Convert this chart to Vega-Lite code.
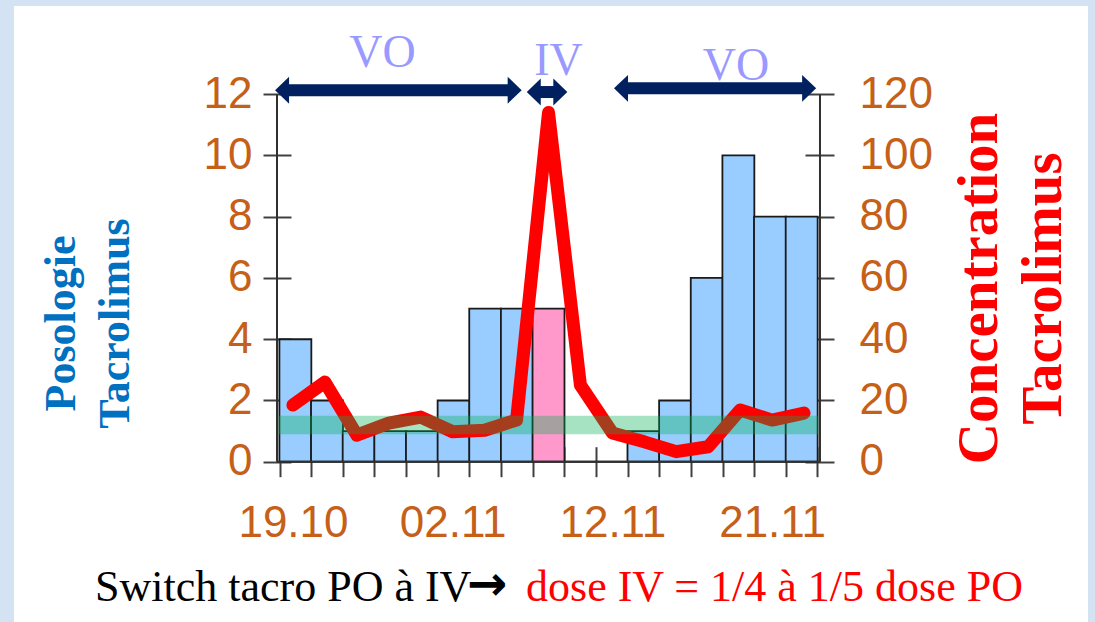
{
  "$schema": "https://vega.github.io/schema/vega-lite/v6.json",
  "autosize": "none",
  "width": 1074,
  "height": 616,
  "padding": {"left": 14, "right": 7, "top": 6, "bottom": 0},
  "background": "#D3E3F3",
  "config": {
    "view": {"fill": "#FFFFFF", "stroke": null},
    "axis": {"grid": false, "domain": false}
  },
  "datasets": {
    "days": [
      {"day": 1, "dose": 4, "route": "VO", "conc": 18.5},
      {"day": 2, "dose": 2, "route": "VO", "conc": 26},
      {"day": 3, "dose": 1, "route": "VO", "conc": 8.7},
      {"day": 4, "dose": 1, "route": "VO", "conc": 12.6},
      {"day": 5, "dose": 1, "route": "VO", "conc": 14.6},
      {"day": 6, "dose": 2, "route": "VO", "conc": 9.8},
      {"day": 7, "dose": 5, "route": "VO", "conc": 10.3},
      {"day": 8, "dose": 5, "route": "VO", "conc": 13.6},
      {"day": 9, "dose": 5, "route": "IV", "conc": 114},
      {"day": 10, "dose": 0, "route": "-", "conc": 25},
      {"day": 11, "dose": 0, "route": "-", "conc": 9.4},
      {"day": 12, "dose": 1, "route": "VO", "conc": 6.5},
      {"day": 13, "dose": 2, "route": "VO", "conc": 3.3},
      {"day": 14, "dose": 6, "route": "VO", "conc": 4.9},
      {"day": 15, "dose": 10, "route": "VO", "conc": 16.9},
      {"day": 16, "dose": 8, "route": "VO", "conc": 13.6},
      {"day": 17, "dose": 8, "route": "VO", "conc": 15.9}
    ],
    "periods": [
      {"route": "VO", "from": 0.44, "to": 8.16, "level": 12.13, "labelAt": 3.8, "labelLevel": 12.88},
      {"route": "IV", "from": 8.32, "to": 9.59, "level": 12.07, "labelAt": 9.31, "labelLevel": 12.62},
      {"route": "VO", "from": 11.05, "to": 17.38, "level": 12.19, "labelAt": 14.87, "labelLevel": 12.46}
    ]
  },
  "resolve": {
    "scale": {"x": "independent", "y": "independent"},
    "axis": {"x": "independent", "y": "independent"}
  },
  "layer": [
    {
      "data": {"name": "days"},
      "mark": {"type": "bar", "width": 31.94, "stroke": "#1A1A1A", "strokeWidth": 1.8},
      "encoding": {
        "x": {
          "field": "day", "type": "quantitative",
          "scale": {"domain": [-7.734, 25.891], "nice": false, "zero": false},
          "axis": {
            "orient": "bottom", "offset": -175.3,
            "values": [0.5, 1.5, 2.5, 3.5, 4.5, 5.5, 6.5, 7.5, 8.5, 9.5, 10.5, 11.5, 12.5, 13.5, 14.5, 15.5, 16.5, 17.5],
            "labels": false, "ticks": true, "tickSize": 30, "tickColor": "#404040", "tickWidth": 2,
            "title": null, "domain": false, "grid": false
          }
        },
        "y": {
          "field": "dose", "type": "quantitative", "stack": null,
          "scale": {"domain": [-5.2316, 14.8788], "nice": false, "zero": false},
          "axis": {
            "orient": "left", "offset": -277,
            "values": [0, 2, 4, 6, 8, 10, 12],
            "tickSize": 28, "tickColor": "#404040", "tickWidth": 2,
            "labelPadding": 11, "labelFontSize": 44, "labelFont": "Liberation Sans", "labelColor": "#C65F17",
            "title": ["Posologie", "Tacrolimus"],
            "titleFont": "Liberation Serif", "titleFontSize": 44, "titleFontWeight": "bold", "titleColor": "#0070C0",
            "titleAngle": -90, "titleX": -230, "titleY": 317, "titleAlign": "center", "titleBaseline": "middle",
            "titleLineHeight": 54, "domain": false, "grid": false
          }
        },
        "color": {
          "field": "route", "type": "nominal",
          "scale": {"domain": ["VO", "IV", "-"], "range": ["#99CCFF", "#FF99CC", "#FFFFFF"]},
          "legend": null
        }
      }
    },
    {
      "data": {"name": "days"},
      "mark": {"type": "line", "color": "#FF0000", "strokeWidth": 13, "strokeJoin": "round", "strokeCap": "round"},
      "encoding": {
        "x": {
          "field": "day", "type": "quantitative",
          "scale": {"domain": [-7.734, 25.891], "nice": false, "zero": false},
          "axis": null
        },
        "y": {
          "field": "conc", "type": "quantitative",
          "scale": {"domain": [-52.316, 148.788], "nice": false, "zero": false},
          "axis": {
            "orient": "right", "offset": -283,
            "values": [0, 20, 40, 60, 80, 100, 120],
            "tickSize": 29, "tickColor": "#404040", "tickWidth": 2,
            "labelPadding": 25, "labelFontSize": 44, "labelFont": "Liberation Sans", "labelColor": "#C65F17",
            "title": ["Concentration", "Tacrolimus"],
            "titleFont": "Liberation Serif", "titleFontSize": 57, "titleFontWeight": "bold", "titleColor": "#FF0000",
            "titleAngle": -90, "titleX": 174, "titleY": 282, "titleAlign": "center", "titleBaseline": "middle",
            "titleLineHeight": 64, "domain": false, "grid": false
          }
        }
      }
    },
    {
      "data": {"values": [{}]},
      "mark": {"type": "rect", "color": "#00B050", "opacity": 0.35},
      "encoding": {
        "x": {"datum": 0.55, "type": "quantitative", "scale": {"domain": [-7.734, 25.891], "nice": false, "zero": false}, "axis": null},
        "x2": {"datum": 17.45},
        "y": {"datum": 9, "type": "quantitative", "scale": {"domain": [-52.316, 148.788], "nice": false, "zero": false}, "axis": null},
        "y2": {"datum": 15}
      }
    },
    {
      "data": {"values": [{}]},
      "mark": {"type": "rule", "color": "#303030", "strokeWidth": 2},
      "encoding": {
        "x": {
          "datum": 0.5, "type": "quantitative",
          "scale": {"domain": [-7.734, 25.891], "nice": false, "zero": false},
          "axis": {
            "orient": "bottom", "offset": -160.3,
            "values": [1, 6, 11, 16],
            "labelExpr": "datum.value == 1 ? '19.10' : datum.value == 6 ? '02.11' : datum.value == 11 ? '12.11' : '21.11'",
            "ticks": false, "labelPadding": 40, "labelBaseline": "top", "labelFlush": false,
            "labelFontSize": 44, "labelFont": "Liberation Sans", "labelColor": "#C65F17",
            "title": null, "domain": false, "grid": false
          }
        },
        "x2": {"datum": 17.5},
        "y": {"datum": 0, "type": "quantitative", "scale": {"domain": [-5.2316, 14.8788], "nice": false, "zero": false}, "axis": null}
      }
    },
    {
      "data": {"values": [{}]},
      "mark": {"type": "rule", "color": "#303030", "strokeWidth": 2},
      "encoding": {
        "x": {"datum": 0.5, "type": "quantitative", "scale": {"domain": [-7.734, 25.891], "nice": false, "zero": false}, "axis": null},
        "y": {"datum": 0, "type": "quantitative", "scale": {"domain": [-5.2316, 14.8788], "nice": false, "zero": false}, "axis": null},
        "y2": {"datum": 12}
      }
    },
    {
      "data": {"values": [{}]},
      "mark": {"type": "rule", "color": "#303030", "strokeWidth": 2},
      "encoding": {
        "x": {"datum": 17.5, "type": "quantitative", "scale": {"domain": [-7.734, 25.891], "nice": false, "zero": false}, "axis": null},
        "y": {"datum": 0, "type": "quantitative", "scale": {"domain": [-5.2316, 14.8788], "nice": false, "zero": false}, "axis": null},
        "y2": {"datum": 12}
      }
    },
    {
      "data": {"name": "periods"},
      "mark": {"type": "rule", "color": "#002060", "strokeWidth": 12, "xOffset": 10, "x2Offset": -10},
      "encoding": {
        "x": {"field": "from", "type": "quantitative", "scale": {"domain": [-7.734, 25.891], "nice": false, "zero": false}, "axis": null},
        "x2": {"field": "to"},
        "y": {"field": "level", "type": "quantitative", "scale": {"domain": [-5.2316, 14.8788], "nice": false, "zero": false}, "axis": null}
      }
    },
    {
      "data": {"name": "periods"},
      "mark": {"type": "point", "shape": "M0,0L1,-0.96L1,0.96Z", "size": 784, "filled": true, "color": "#002060", "opacity": 1, "strokeWidth": 0},
      "encoding": {
        "x": {"field": "from", "type": "quantitative", "scale": {"domain": [-7.734, 25.891], "nice": false, "zero": false}, "axis": null},
        "y": {"field": "level", "type": "quantitative", "scale": {"domain": [-5.2316, 14.8788], "nice": false, "zero": false}, "axis": null}
      }
    },
    {
      "data": {"name": "periods"},
      "mark": {"type": "point", "shape": "M0,0L-1,-0.96L-1,0.96Z", "size": 784, "filled": true, "color": "#002060", "opacity": 1, "strokeWidth": 0},
      "encoding": {
        "x": {"field": "to", "type": "quantitative", "scale": {"domain": [-7.734, 25.891], "nice": false, "zero": false}, "axis": null},
        "y": {"field": "level", "type": "quantitative", "scale": {"domain": [-5.2316, 14.8788], "nice": false, "zero": false}, "axis": null}
      }
    },
    {
      "data": {"name": "periods"},
      "mark": {"type": "text", "font": "Liberation Serif", "fontSize": 46, "color": "#9999FF", "align": "center", "baseline": "alphabetic"},
      "encoding": {
        "x": {"field": "labelAt", "type": "quantitative", "scale": {"domain": [-7.734, 25.891], "nice": false, "zero": false}, "axis": null},
        "y": {"field": "labelLevel", "type": "quantitative", "scale": {"domain": [-5.2316, 14.8788], "nice": false, "zero": false}, "axis": null},
        "text": {"field": "route"}
      }
    },
    {
      "data": {"values": [{}]},
      "mark": {"type": "text", "font": "Liberation Serif", "fontSize": 44, "color": "#000000", "align": "left", "baseline": "alphabetic"},
      "encoding": {
        "x": {"datum": -5.198, "type": "quantitative", "scale": {"domain": [-7.734, 25.891], "nice": false, "zero": false}, "axis": null},
        "y": {"datum": -4.546, "type": "quantitative", "scale": {"domain": [-5.2316, 14.8788], "nice": false, "zero": false}, "axis": null},
        "text": {"value": "Switch tacro PO à IV"}
      }
    },
    {
      "data": {"values": [{}]},
      "mark": {"type": "text", "font": "DejaVu Sans", "fontSize": 48, "fontWeight": "bold", "color": "#000000", "align": "left", "baseline": "alphabetic"},
      "encoding": {
        "x": {"datum": 6.45, "type": "quantitative", "scale": {"domain": [-7.734, 25.891], "nice": false, "zero": false}, "axis": null},
        "y": {"datum": -4.52, "type": "quantitative", "scale": {"domain": [-5.2316, 14.8788], "nice": false, "zero": false}, "axis": null},
        "text": {"value": "→"}
      }
    },
    {
      "data": {"values": [{}]},
      "mark": {"type": "text", "font": "Liberation Serif", "fontSize": 44, "color": "#FF0000", "align": "left", "baseline": "alphabetic"},
      "encoding": {
        "x": {"datum": 8.296, "type": "quantitative", "scale": {"domain": [-7.734, 25.891], "nice": false, "zero": false}, "axis": null},
        "y": {"datum": -4.546, "type": "quantitative", "scale": {"domain": [-5.2316, 14.8788], "nice": false, "zero": false}, "axis": null},
        "text": {"value": "dose IV = 1/4 à 1/5 dose PO"}
      }
    }
  ]
}
